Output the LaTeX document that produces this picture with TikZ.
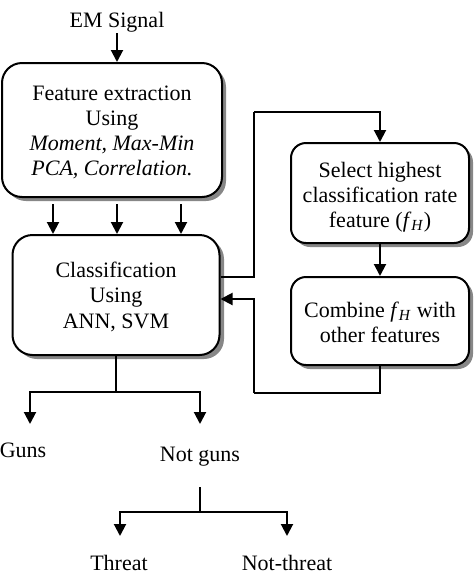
\documentclass[tikz,border=0pt]{standalone}
\usepackage{fontspec}
\setmainfont{Liberation Serif}
\usetikzlibrary{arrows.meta}
\definecolor{shadowgray}{RGB}{135,135,135}
\begin{document}
\begin{tikzpicture}[x=1pt,y=-1pt,
  box/.style={draw=black,line width=2pt,fill=white,inner sep=0pt},
  boxshadow/.style={fill=shadowgray},
  lbl/.style={inner sep=0pt,anchor=base,font=\fontsize{22}{25}\selectfont},
  txt/.style={inner sep=0pt,anchor=base,font=\fontsize{22}{25}\selectfont},
  ln/.style={line width=2pt},
  arr/.style={line width=2pt,-{Triangle[length=12pt,width=12pt]}}]
\useasboundingbox (0,0) rectangle (474,574);
% shadows
\fill[boxshadow,rounded corners=20pt] (6,67) rectangle (226,201);
\fill[boxshadow,rounded corners=20pt] (17,239) rectangle (224,359);
\fill[boxshadow,rounded corners=15pt] (295,147) rectangle (473,247);
\fill[boxshadow,rounded corners=15pt] (295,281) rectangle (473,369);
% boxes
\node[box,rounded corners=20pt,minimum width=220pt,minimum height=134pt] (fe) at (112,130) {};
\node[box,rounded corners=20pt,minimum width=207pt,minimum height=120pt] (cl) at (116,295) {};
\node[box,rounded corners=15pt,minimum width=178pt,minimum height=100pt] (sel) at (380,193) {};
\node[box,rounded corners=15pt,minimum width=178pt,minimum height=88pt] (comb) at (380,321) {};
% texts
\node[lbl] (em) at (117,27) {EM Signal};
\node[txt] (fe1) at (112,100) {Feature extraction};
\node[txt] (fe2) at (112,125) {Using};
\node[txt] (fe3) at (112,150) {\itshape Moment, Max-Min};
\node[txt] (fe4) at (112,175) {\itshape PCA, Correlation.};
\node[txt] (cl1) at (116,277) {Classification};
\node[txt] (cl2) at (116,302) {Using};
\node[txt] (cl3) at (116,328) {ANN, SVM};
\node[txt] (se1) at (380,177) {Select highest};
\node[txt] (se2) at (380,202) {classification rate};
\node[txt] (se3) at (380,227) {feature (\textit{f}\textsubscript{\textit{H}})};
\node[txt] (co1) at (380,317) {Combine \textit{f}\textsubscript{\textit{H}} with};
\node[txt] (co2) at (380,342) {other features};
\node[lbl] (guns) at (23,457) {Guns};
\node[lbl] (ng) at (200,461) {Not guns};
\node[lbl] (thr) at (119,570) {Threat};
\node[lbl] (nthr) at (287,570) {Not-threat};
% coordinates
\coordinate (e0) at (117,33);
\coordinate (c1) at (254,112);
\coordinate (c2) at (254,393);
\coordinate (j1) at (116,392);
\coordinate (g1) at (30,424);
\coordinate (g2) at (200,424);
\coordinate (n0) at (200,487);
\coordinate (j2) at (200,512);
\coordinate (t1) at (120,536);
\coordinate (t2) at (287,536);
% connectors
\draw[arr] (e0) -- (e0 |- fe.north);
\draw[arr] ([xshift=-59pt,yshift=-6pt]fe.south) -- ([xshift=-59pt]fe.south |- cl.north);
\draw[arr] ([xshift=5pt,yshift=-6pt]fe.south) -- ([xshift=5pt]fe.south |- cl.north);
\draw[arr] ([xshift=69pt,yshift=-6pt]fe.south) -- ([xshift=69pt]fe.south |- cl.north);
\draw[ln] ([yshift=18pt]cl.east) -| (c1);
\draw[arr] (c1) -| (sel.north);
\draw[arr] (sel.south) -- (comb.north);
\draw[ln] (comb.south) |- (c2);
\draw[arr] (c2) |- ([yshift=-4pt]cl.east);
\draw[ln] (cl.south) -- (j1);
\draw[arr] (j1) -| (g1);
\draw[arr] (j1) -| (g2);
\draw[ln] (n0) -- (j2);
\draw[arr] (j2) -| (t1);
\draw[arr] (j2) -| (t2);
\end{tikzpicture}
\end{document}
